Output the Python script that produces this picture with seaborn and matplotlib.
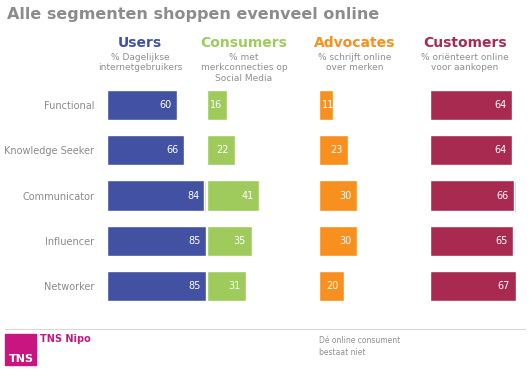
import seaborn as sns
import matplotlib.pyplot as plt
import matplotlib.patheffects as pe
import pandas as pd
from matplotlib.patches import Rectangle

# Data
segments = ['Functional', 'Knowledge Seeker', 'Communicator', 'Influencer', 'Networker']
users = [60, 66, 84, 85, 85]
consumers = [16, 22, 41, 35, 31]
advocates = [11, 23, 30, 30, 20]
customers = [64, 64, 66, 65, 67]

headers = ['Users', 'Consumers', 'Advocates', 'Customers']
subtitles = ['% Dagelijkse\ninternetgebruikers',
             '% met\nmerkconnecties op\nSocial Media',
             '% schrijft online\nover merken',
             '% oriënteert online\nvoor aankopen']
colors = ['#4351A2', '#9ECB5B', '#F7901E', '#A82A50']

series = [users, consumers, advocates, customers]

W, H = 530, 369
sns.set_style('white')
plt.rcParams['font.family'] = ['DejaVu Sans']
fig = plt.figure(figsize=(W / 100, H / 100), dpi=100)

# panel positions in pixels (left, width)
panels = [(107, 116), (206.7, 128), (318.7, 128), (430, 128)]
top_px, bot_px = 82.4, 308.6
head_x = [140, 244, 355, 465]

for i, (vals, col) in enumerate(zip(series, colors)):
    left, width = panels[i]
    ax = fig.add_axes([left / W, 1 - bot_px / H, width / W, (bot_px - top_px) / H])
    df = pd.DataFrame({'segment': segments, 'value': vals})
    sns.barplot(data=df, x='value', y='segment', color=col, orient='h',
                width=0.667, saturation=1, ax=ax)
    ax.set_xlim(0, 100)
    ax.set_ylim(4.5, -0.5)
    ax.set_xlabel('')
    ax.set_ylabel('')
    ax.set_xticks([])
    if i == 0:
        ax.tick_params(axis='y', length=0, pad=9, labelsize=7, labelcolor='#8a8a8a')
    else:
        ax.set_yticks([])
    sns.despine(ax=ax, left=True, bottom=True)
    # zachte schaduw onder de balken
    for p in ax.patches:
        p.set_path_effects([pe.SimplePatchShadow(offset=(0.8, -0.8), shadow_rgbFace='#bbbbbb',
                                                 alpha=0.6), pe.Normal()])
    for p, v in zip(ax.patches, vals):
        xpos = max(p.get_width() - 4.5, 12)
        ax.text(xpos, p.get_y() + p.get_height() / 2, str(v),
                color='white', fontsize=7, ha='right', va='center')

    fig.text(head_x[i] / W, 1 - 43 / H, headers[i], color=col, fontsize=10,
             fontweight='bold', ha='center', va='center')
    fig.text(head_x[i] / W, 1 - 53 / H, subtitles[i], color='#8f8f8f', fontsize=6.5,
             ha='center', va='top', linespacing=1.2)

# title
fig.text(7 / W, 1 - 15 / H, 'Alle segmenten shoppen evenveel online', color='#8c8c8c',
         fontsize=11.5, fontweight='bold', ha='left', va='center')

# footer
fig.add_artist(plt.Line2D([5 / W, 525 / W], [1 - 329 / H, 1 - 329 / H],
                          color='#d8d8d8', lw=0.8))
fig.add_artist(Rectangle((5 / W, 1 - 365 / H), 31 / W, 31 / H,
                         transform=fig.transFigure, color='#C8157F'))
fig.text(34 / W, 1 - 359 / H, 'TNS', color='white', fontsize=8, fontweight='bold',
         ha='right', va='center')
fig.text(40 / W, 1 - 339 / H, 'TNS Nipo', color='#C8157F', fontsize=7,
         fontweight='bold', ha='left', va='center')
fig.text(319 / W, 1 - 336 / H, 'Dé online consument\nbestaat niet', color='#8f8f8f',
         fontsize=5.5, ha='left', va='top', linespacing=1.4)

fig.savefig('out.png', dpi=100)
